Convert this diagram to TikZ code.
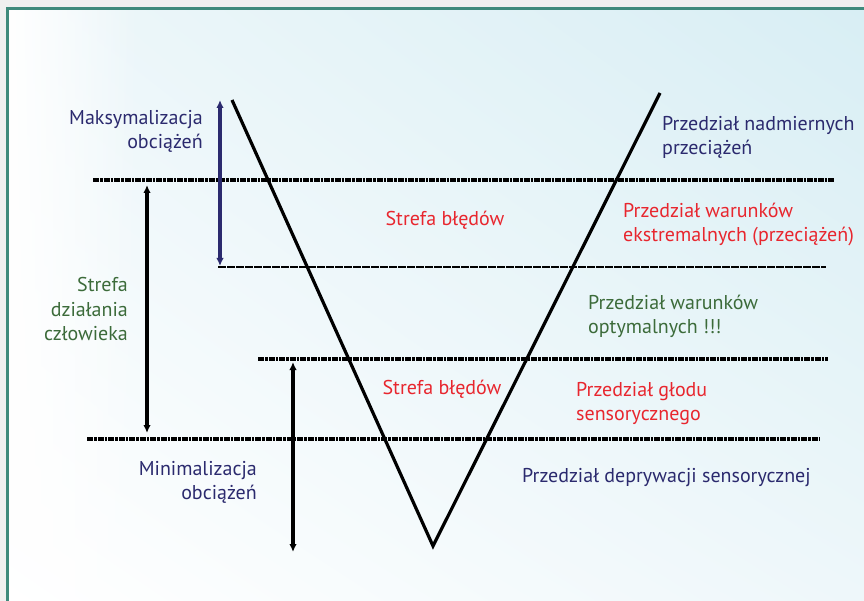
\documentclass[tikz,border=0pt]{standalone}
\usepackage{fontspec}
\setmainfont{PT Sans}
\usetikzlibrary{arrows.meta,shadings,fadings}
\definecolor{navy}{HTML}{2B2A6E}
\definecolor{redtxt}{HTML}{E8262E}
\definecolor{greentxt}{HTML}{3C6B3A}
\definecolor{framec}{HTML}{3F8A7C}
\definecolor{outerg}{HTML}{F0F0F0}
\definecolor{bluebg}{HTML}{D8EEF4}
\definecolor{bluemid}{HTML}{EEF7FA}
\begin{document}
\begin{tikzpicture}[x=1pt,y=-1pt,
  lbl/.style={inner sep=0pt,font=\fontsize{20}{24}\selectfont},
  vline/.style={line width=3.2pt,black},
  thickdash/.style={line width=3.4pt,dash pattern=on 6pt off 1pt on 2.5pt off 1pt},
  thindash/.style={line width=1.6pt,dash pattern=on 8pt off 1pt},
  dblarrow/.style={line width=3.2pt,{Latex[length=8pt,width=7.5pt]}-{Latex[length=8pt,width=7.5pt]}}
]
\useasboundingbox (0,0) rectangle (864,601);
\fill[outerg] (0,0) rectangle (864,601);
\shade[upper left=bluemid, upper right=bluebg, lower left=white, lower right=bluemid] (8,9) rectangle (864,601);
\fill[white,path fading=east] (8,9) rectangle (140,601);
\draw[framec,line width=2.5pt] (7.5,601) -- (7.5,8.5) -- (864,8.5);

% coordinates
\coordinate (vl) at (232,100);
\coordinate (va) at (433,546);
\coordinate (vr) at (660,93);
\coordinate (h1a) at (93,180);  \coordinate (h1b) at (835,180);
\coordinate (h2a) at (218,267); \coordinate (h2b) at (826,267);
\coordinate (h3a) at (258,359); \coordinate (h3b) at (828,359);
\coordinate (h4a) at (87,439);  \coordinate (h4b) at (820,439);
\coordinate (a1t) at (220,100); \coordinate (a1b) at (220,266);
\coordinate (a2t) at (147,185); \coordinate (a2b) at (147,433);
\coordinate (a3t) at (293,362); \coordinate (a3b) at (293,552);

\draw[thickdash] (h1a) -- (h1b);
\draw[thindash] (h2a) -- (h2b);
\draw[thickdash] (h3a) -- (h3b);
\draw[thickdash] (h4a) -- (h4b);

\draw[vline] (vl) -- (va) -- (vr);

\draw[dblarrow,navy] (a1t) -- (a1b);
\draw[dblarrow] (a2t) -- (a2b);
\draw[dblarrow] (a3t) -- (a3b);

% labels
\node[lbl,navy,align=right,anchor=east] (maks) at (203,131) {Maksymalizacja\\obciążeń};
\node[lbl,navy,align=left,anchor=west] (nadm) at (662,137) {Przedział nadmiernych\\przeciążeń};
\node[lbl,redtxt] (sb1) at (445,220) {Strefa błędów};
\node[lbl,redtxt,align=left,anchor=west] (ekst) at (623,225) {Przedział warunków\\ekstremalnych (przeciążeń)};
\node[lbl,greentxt,align=right,anchor=east] (sdc) at (128,309) {Strefa\\działania\\człowieka};
\node[lbl,greentxt,align=left,anchor=west] (opt) at (588,316) {Przedział warunków\\optymalnych !!!};
\node[lbl,redtxt] (sb2) at (442,389) {Strefa błędów};
\node[lbl,redtxt,align=left,anchor=west] (glod) at (576,404) {Przedział głodu\\sensorycznego};
\node[lbl,navy,align=right,anchor=east] (mini) at (257,482) {Minimalizacja\\obciążeń};
\node[lbl,navy,anchor=west] (depr) at (522,478) {Przedział deprywacji sensorycznej};
\end{tikzpicture}
\end{document}
